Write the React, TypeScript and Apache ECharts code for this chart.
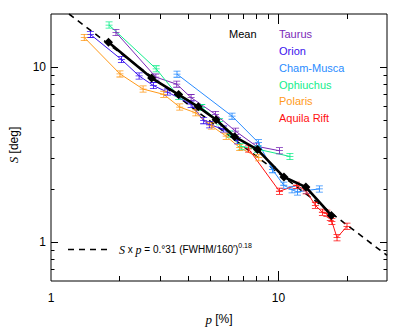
import React, { useEffect, useRef } from 'react';
import * as echarts from 'echarts';

// ---- data (p in %, S in deg) ----
const seriesNames = ['Taurus', 'Orion', 'Cham-Musca', 'Ophiuchus', 'Polaris', 'Aquila Rift'];
const seriesColors = ['#7a2ab8', '#3a12ee', '#2a8cff', '#12ee8c', '#ff9a1a', '#ff1010'];

const taurusP = [1.93, 2.89, 3.57, 4.13, 5.29, 6.48, 8.01, 10.1];
const taurusS = [15.7, 8.73, 7.96, 6.67, 5.35, 4.29, 3.52, 3.32];

const orionP = [1.49, 2.04, 2.44, 2.82, 3.25, 4.13, 4.69, 4.98, 5.74, 6.61];
const orionS = [15.3, 11.0, 8.87, 7.81, 7.17, 6.12, 4.93, 4.67, 4.41, 3.79];

const chamP = [3.58, 6.25, 8.17, 9.41, 10.55, 11.47, 12.12, 13.27, 15.13];
const chamS = [9.08, 5.23, 3.69, 2.59, 2.11, 1.99, 1.93, 1.97, 2.01];

const ophP = [1.8, 2.9, 3.64, 4.6, 5.51, 6.1, 6.86, 8.09, 11.23];
const ophS = [17.3, 9.73, 6.76, 5.85, 4.86, 4.13, 3.5, 3.39, 3.08];

const polP = [1.4, 2.01, 2.54, 3.13, 3.68, 4.33, 5.07, 5.89, 6.75, 8.19];
const polS = [14.7, 9.11, 7.46, 6.96, 5.89, 5.46, 4.6, 4.02, 3.46, 3.03];

const aqP = [7.39, 10.1, 11.99, 13.23, 14.53, 15.6, 16.32, 16.9, 17.17, 18.09, 20.01];
const aqS = [3.4, 1.95, 2.11, 1.96, 1.62, 1.48, 1.46, 1.38, 1.31, 1.06, 1.23];

const meanP = [1.79, 2.77, 3.64, 4.44, 5.32, 6.41, 8.09, 10.57, 13.2, 17.08];
const meanS = [13.8, 8.62, 6.94, 5.91, 4.99, 3.99, 3.37, 2.35, 2.06, 1.42];

const fitP = [1.2, 30];
const fitS = [20.0, 0.84];

const xTickVals = [2, 3, 4, 5, 6, 7, 8, 9, 10, 20];
const yTickVals = [0.7, 0.8, 0.9, 1, 2, 3, 4, 5, 6, 7, 8, 9, 10];
const majorTicks = [1, 10];

const xRange = [1, 30];
const yRange = [0.6, 20];

const legendLabels = ['Mean', ...seriesNames];

const errPath = 'path://M0,0H8V1H0Z M3.5,0H4.5V9H3.5Z M0,4H8V5H0Z M0,8H8V9H0Z';

function zip(a: number[], b: number[]) {
  return a.map((v, i) => [v, b[i]]);
}

export default function App() {
  const ref = useRef<HTMLDivElement>(null);
  useEffect(() => {
    if (!ref.current) return;
    const chart = echarts.init(ref.current, null, { renderer: 'svg' });
    const allP = [taurusP, orionP, chamP, ophP, polP, aqP];
    const allS = [taurusS, orionS, chamS, ophS, polS, aqS];

    const isMajor = (v: number) => majorTicks.indexOf(v) >= 0;

    const colored = allP.map((p, i) => ({
      type: 'line',
      name: seriesNames[i],
      data: zip(p, allS[i]),
      symbol: errPath,
      symbolSize: [7, 7],
      showSymbol: true,
      itemStyle: { color: seriesColors[i] },
      lineStyle: { color: seriesColors[i], width: 1 },
      z: 3,
    }));

    const labelFmt = (v: number) => {
      const l = Math.log10(v);
      return Math.abs(l - Math.round(l)) < 1e-6 && (Math.round(l) === 0 || Math.round(l) === 1)
        ? String(Math.round(Math.pow(10, Math.round(l))))
        : '';
    };

    const option: any = {
      animation: false,
      textStyle: { fontFamily: 'Liberation Sans' },
      grid: { left: 51, top: 14, right: 28, bottom: 51, show: true, borderColor: '#000', borderWidth: 1, backgroundColor: 'transparent' },
      xAxis: {
        type: 'log', logBase: 10, min: xRange[0], max: xRange[1],
        axisLine: { show: false },
        axisTick: { show: false },
        splitLine: { show: false },
        axisLabel: { formatter: labelFmt, fontSize: 12, color: '#000', margin: 11, showMinLabel: true, showMaxLabel: false },
      },
      yAxis: {
        type: 'log', logBase: 10, min: yRange[0], max: yRange[1],
        axisLine: { show: false },
        axisTick: { show: false },
        splitLine: { show: false },
        axisLabel: { formatter: labelFmt, fontSize: 12, color: '#000', margin: 5, showMinLabel: false, showMaxLabel: false },
      },
      series: [
        {
          type: 'custom',
          coordinateSystem: 'cartesian2d',
          encode: { x: 0, y: 1 },
          data: xTickVals.map((v) => [v, 1, isMajor(v) ? 1 : 0]),
          silent: true,
          clip: false,
          z: 10,
          renderItem: (params: any, api: any) => {
            const cs = params.coordSys;
            const px = Math.round(api.coord([api.value(0), 1])[0]) + 0.5;
            const len = api.value(2) === 1 ? 10 : 5;
            const top = cs.y;
            const bottom = cs.y + cs.height;
            const st = { stroke: '#000', lineWidth: 1 };
            return {
              type: 'group',
              children: [
                { type: 'line', shape: { x1: px, y1: bottom, x2: px, y2: bottom - len }, style: st },
                { type: 'line', shape: { x1: px, y1: top, x2: px, y2: top + len }, style: st },
              ],
            };
          },
        },
        {
          type: 'custom',
          coordinateSystem: 'cartesian2d',
          encode: { x: 0, y: 1 },
          data: yTickVals.map((v) => [2, v, isMajor(v) ? 1 : 0]),
          silent: true,
          clip: false,
          z: 10,
          renderItem: (params: any, api: any) => {
            const cs = params.coordSys;
            const py = Math.round(api.coord([2, api.value(1)])[1]) + 0.5;
            const len = api.value(2) === 1 ? 7 : 3.5;
            const left = cs.x;
            const right = cs.x + cs.width;
            const st = { stroke: '#000', lineWidth: 1 };
            return {
              type: 'group',
              children: [
                { type: 'line', shape: { x1: left, y1: py, x2: left + len, y2: py }, style: st },
                { type: 'line', shape: { x1: right, y1: py, x2: right - len, y2: py }, style: st },
              ],
            };
          },
        },
        {
          type: 'line',
          name: 'fit',
          data: zip(fitP, fitS),
          showSymbol: false,
          symbol: 'none',
          lineStyle: { color: '#000', width: 1.6, type: [6, 5] },
          z: 2,
        },
        ...colored,
        {
          type: 'line',
          name: 'Mean',
          data: zip(meanP, meanS),
          symbol: 'diamond',
          symbolSize: 9,
          itemStyle: { color: '#000' },
          lineStyle: { color: '#000', width: 2.6 },
          z: 5,
        },
      ],
      graphic: [
        ...legendLabels.map((t, i) => ({
          type: 'text',
          left: i === 0 ? 229 : 279,
          top: (i === 0 ? 35.7 : 35.7 + (i - 1) * 16.8) - 7,
          style: {
            text: t,
            fill: i === 0 ? '#000' : seriesColors[i - 1],
            font: '11px "Liberation Sans"',
          },
          z: 20,
        })),
        {
          type: 'line',
          shape: { x1: 68, y1: 249.5, x2: 109, y2: 249.5 },
          style: { stroke: '#000', lineWidth: 1.6, lineDash: [6, 5] },
          z: 20,
        },
        {
          type: 'text',
          x: 119,
          y: 249.5,
          style: {
            text: '{it|S} x {it|p} = 0.°31 (FWHM/160′){sup|0.18}',
            fill: '#000',
            fontFamily: 'Liberation Sans',
            fontSize: 10,
            verticalAlign: 'middle',
            align: 'left',
            rich: {
              it: { fontFamily: 'Liberation Serif', fontStyle: 'italic', fontSize: 12 },
              sup: { fontSize: 7, verticalAlign: 'top', lineHeight: 16 },
            },
          },
          z: 20,
        },
        {
          type: 'text',
          x: 219,
          y: 319,
          style: {
            text: '{it|p} [%]',
            fill: '#000',
            fontFamily: 'Liberation Sans',
            fontSize: 12,
            align: 'center',
            verticalAlign: 'middle',
            rich: { it: { fontFamily: 'Liberation Serif', fontStyle: 'italic', fontSize: 13 } },
          },
          z: 20,
        },
        {
          type: 'text',
          x: 13.5,
          y: 145,
          rotation: Math.PI / 2,
          style: {
            text: '{it|S} [deg]',
            fill: '#000',
            fontFamily: 'Liberation Sans',
            fontSize: 12,
            align: 'center',
            verticalAlign: 'middle',
            rich: { it: { fontFamily: 'Liberation Serif', fontStyle: 'italic', fontSize: 13 } },
          },
          z: 20,
        },
      ],
    };
    chart.setOption(option);
    return () => chart.dispose();
  }, []);
  return <div ref={ref} style={{ position: 'absolute', left: 0, top: 0, width: 415, height: 332, background: '#fff' }} />;
}
